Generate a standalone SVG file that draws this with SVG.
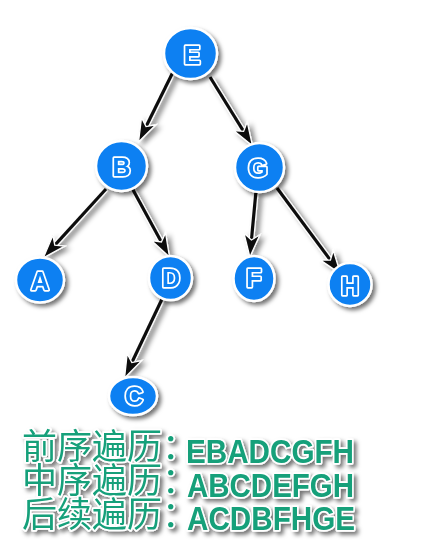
<svg xmlns="http://www.w3.org/2000/svg" width="447" height="550" viewBox="0 0 447 550">
<defs>
<style>
.node ellipse{fill:#0a80f2;stroke:#ffffff;stroke-width:2.5;}
.node text{font-family:"Liberation Sans",Arial,sans-serif;font-weight:bold;font-size:25px;fill:#0a80f2;stroke:#ffffff;stroke-width:3.4;stroke-linejoin:round;paint-order:stroke;text-anchor:middle;dominant-baseline:central;}
.edge-o{fill:none;stroke:#ffffff;stroke-width:5.5;}
.edge{fill:none;stroke:#111111;stroke-width:3.2;marker-end:url(#arrow);}
.legend text{fill:#13a07a;stroke:#ffffff;stroke-width:3.5;stroke-linejoin:round;paint-order:stroke;}
.cjk{font-family:"Noto Sans CJK SC",sans-serif;font-size:35px;}
.lat{font-family:"Liberation Sans",Arial,sans-serif;font-weight:bold;font-size:34px;}
</style>
<filter id="sh" x="-30%" y="-30%" width="160%" height="160%">
<feDropShadow dx="3" dy="3" stdDeviation="2.2" flood-color="#000" flood-opacity="0.55"/>
</filter>
<filter id="shl" x="-30%" y="-30%" width="160%" height="160%">
<feDropShadow dx="4" dy="3" stdDeviation="2.5" flood-color="#000" flood-opacity="0.45"/>
</filter>
<marker id="arrow" markerUnits="userSpaceOnUse" markerWidth="30" markerHeight="24" viewBox="-3 -4 30 24" refX="14" refY="8" orient="auto">
<path d="M0,0 L23,8 L0,16 L6,8 Z" fill="#111111" stroke="#ffffff" stroke-width="1.3" stroke-linejoin="miter"/>
</marker>
</defs>
<rect width="447" height="550" fill="#ffffff"/>
<g id="connectors" filter="url(#shl)">
<path class="edge-o" d="M173,72 L142.5,133.8"/>
<path class="edge-o" d="M210,77 L247.8,138.2"/>
<path class="edge-o" d="M106,189 L49.4,251.1"/>
<path class="edge-o" d="M132,188 L165.2,249"/>
<path class="edge-o" d="M256,191 L250.7,248"/>
<path class="edge-o" d="M277,188 L335.2,266.6"/>
<path class="edge-o" d="M163,297 L128.4,369.8"/>
<path class="edge" d="M173,72 L142.5,133.8"/>
<path class="edge" d="M210,77 L247.8,138.2"/>
<path class="edge" d="M106,189 L49.4,251.1"/>
<path class="edge" d="M132,188 L165.2,249"/>
<path class="edge" d="M256,191 L250.7,248"/>
<path class="edge" d="M277,188 L335.2,266.6"/>
<path class="edge" d="M163,297 L128.4,369.8"/>
</g>
<g id="node-E" class="node" filter="url(#sh)"><ellipse cx="190.5" cy="53.5" rx="26.5" ry="25.5"/><text x="192" y="55">E</text></g>
<g id="node-B" class="node" filter="url(#sh)"><ellipse cx="121.5" cy="166" rx="25.5" ry="25"/><text x="121.5" y="167">B</text></g>
<g id="node-G" class="node" filter="url(#sh)"><ellipse cx="259.5" cy="167.5" rx="24.5" ry="24.5"/><text x="258" y="168">G</text></g>
<g id="node-A" class="node" filter="url(#sh)"><ellipse cx="40" cy="280" rx="24" ry="22.5"/><text x="40" y="281">A</text></g>
<g id="node-D" class="node" filter="url(#sh)"><ellipse cx="170.5" cy="278" rx="21.5" ry="22"/><text x="171" y="278">D</text></g>
<g id="node-F" class="node" filter="url(#sh)"><ellipse cx="254" cy="278.5" rx="20.5" ry="22.5"/><text x="254" y="278">F</text></g>
<g id="node-H" class="node" filter="url(#sh)"><ellipse cx="350" cy="284.5" rx="21.5" ry="21.5"/><text x="350" y="286">H</text></g>
<g id="node-C" class="node" filter="url(#sh)"><ellipse cx="133" cy="396" rx="24" ry="19"/><text x="134" y="396">C</text></g>
<g id="legend" class="legend" filter="url(#sh)">
<text y="459"><tspan class="cjk" x="22">前序遍历：</tspan><tspan class="lat" x="186" y="463" textLength="168" lengthAdjust="spacingAndGlyphs">EBADCGFH</tspan></text>
<text y="493"><tspan class="cjk" x="22">中序遍历：</tspan><tspan class="lat" x="187" y="497" textLength="167" lengthAdjust="spacingAndGlyphs">ABCDEFGH</tspan></text>
<text y="527"><tspan class="cjk" x="22">后续遍历：</tspan><tspan class="lat" x="187" y="530" textLength="168" lengthAdjust="spacingAndGlyphs">ACDBFHGE</tspan></text>
</g>
</svg>
